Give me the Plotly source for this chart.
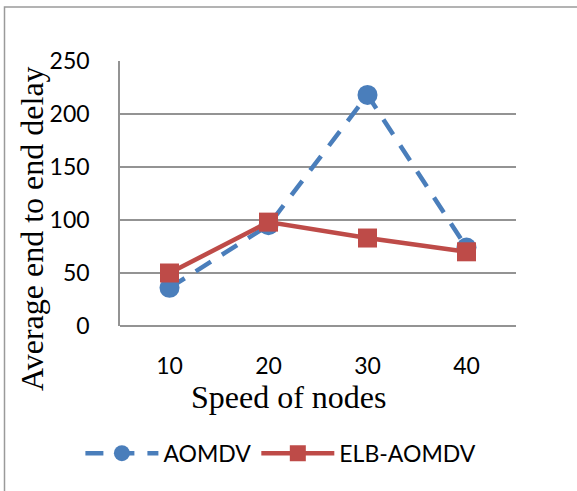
import plotly.graph_objects as go

speeds = ["10", "20", "30", "40"]
aomdv = [36, 95, 218, 74]
elb_aomdv = [50, 98, 83, 70]
y_ticks = [0, 50, 100, 150, 200, 250]

fig = go.Figure()
fig.add_trace(go.Scatter(
    x=speeds, y=aomdv, name="AOMDV", mode="lines+markers",
    line=dict(color="#4A7EBB", width=4.5, dash="18px,13px"),
    marker=dict(symbol="circle", size=20, color="#4A7EBB"),
))
fig.add_trace(go.Scatter(
    x=speeds, y=elb_aomdv, name="ELB-AOMDV", mode="lines+markers",
    line=dict(color="#BE4B48", width=4.5),
    marker=dict(symbol="square", size=19, color="#BE4B48"),
))

grid = "#939393"
serif = "Liberation Serif"
fig.update_layout(
    width=577, height=491,
    margin=dict(l=120, r=61, t=61, b=165, autoexpand=False),
    paper_bgcolor="white", plot_bgcolor="white",
    font=dict(family="Lato", size=23, color="black"),
    showlegend=True,
    legend=dict(orientation="h", x=-0.1, xanchor="left", y=-0.48, yanchor="middle",
                font=dict(family="Lato", size=23, color="black"),
                itemwidth=73, tracegroupgap=0, bgcolor="rgba(0,0,0,0)"),
    xaxis=dict(
        type="category", range=[-0.5, 3.5], showgrid=False, showline=False,
        zeroline=False, ticks="", ticklabelstandoff=24,
        tickfont=dict(family="Lato", size=23),
    ),
    yaxis=dict(
        range=[0, 250], tickvals=y_ticks, showgrid=True, gridcolor=grid, gridwidth=1.5,
        showline=True, linecolor=grid, linewidth=1.5,
        zeroline=True, zerolinecolor=grid, zerolinewidth=1.5, ticks="",
        ticklabelstandoff=24, tickfont=dict(family="Lato", size=23),
    ),
    annotations=[
        dict(text="Average end to end delay", xref="paper", yref="paper",
             x=(32 - 120) / 396, y=(326 - 229) / 265, xanchor="center", yanchor="middle",
             textangle=-90, showarrow=False, font=dict(family=serif, size=32, color="black")),
        dict(text="Speed of nodes", xref="paper", yref="paper",
             x=(289 - 120) / 396, y=(326 - 397) / 265, xanchor="center", yanchor="middle",
             showarrow=False, font=dict(family=serif, size=32, color="black")),
    ],
    shapes=[dict(type="rect", xref="paper", yref="paper",
                 x0=(4.5 - 120) / 396, x1=1.3, y0=-0.7, y1=(326 - 7) / 265,
                 line=dict(color="#9a9a9a", width=1.5), fillcolor="rgba(0,0,0,0)", layer="below")],
)
fig.write_html("out.html")
